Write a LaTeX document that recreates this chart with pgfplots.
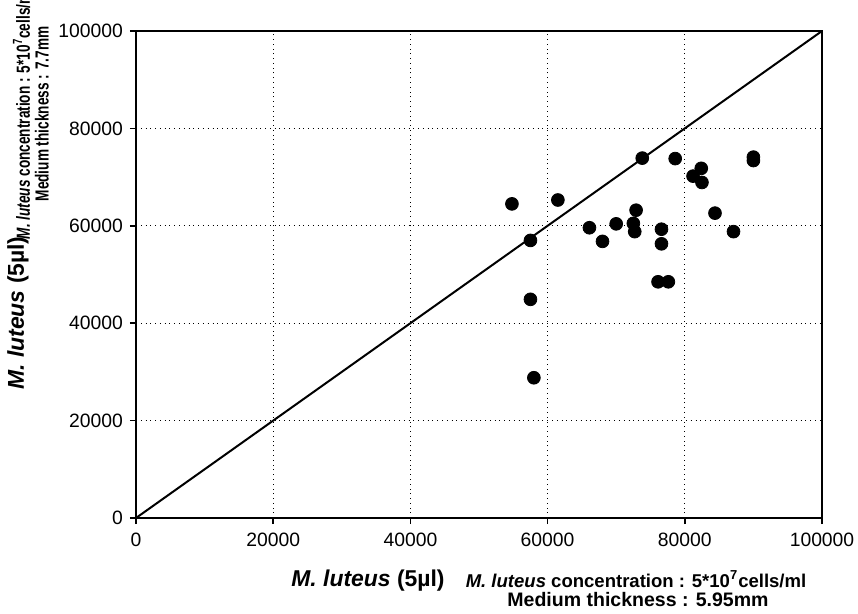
\documentclass[border=0pt]{standalone}
\usepackage{pgfplots}
\pgfplotsset{compat=1.18}
\usepackage{fontspec}
\setmainfont{Liberation Sans}
\newfontfamily\narrowfont[FakeStretch=0.72]{Liberation Sans}
\begin{document}
\begin{tikzpicture}
\path[use as bounding box] (-68bp,-48bp) rectangle (361bp,259bp);
\begin{axis}[at={(0,0)}, anchor=south west, scale only axis,
  width=343bp, height=243.5bp,
  xmin=0, xmax=100000, ymin=0, ymax=100000,
  xtick={0,20000,40000,60000,80000,100000},
  ytick={0,20000,40000,60000,80000,100000},
  xticklabels={0,20000,40000,60000,80000,100000},
  yticklabels={0,20000,40000,60000,80000,100000},
  scaled ticks=false,
  tick label style={font=\fontsize{9.7}{11}\selectfont},
  xticklabel style={yshift=-1bp},
  grid=major, major grid style={black, dotted, line width=0.5pt},
  tick align=outside, tick pos=left, major tick length=3bp,
  tick style={black, line width=0.8pt},
  axis line style={line width=0.8pt},
  clip=false]
\addplot[black, line width=1bp] coordinates {(0,0) (100000,100000)};
\addplot[only marks, mark=*, mark size=3.2bp, black] coordinates {
(54800,64500) (61500,65300) (57500,57000) (57500,44900) (58000,28800)
(66100,59600) (68000,56800) (70000,60400) (72500,60500) (72700,58800)
(72900,63200) (73800,73900) (76600,59300) (76600,56300) (76100,48500)
(77600,48500) (78600,73800) (81200,70200) (82400,71800) (82500,68900)
(84400,62600) (87100,58800) (90000,74100) (90000,73400)};
\end{axis}
\node[font=\bfseries\fontsize{11.5}{13}\selectfont] at (116bp,-31.5bp) {\textit{M. luteus} (5µl)};
\node[font=\bfseries\fontsize{9.3}{10.5}\selectfont] at (250bp,-30.5bp)
  {\textit{M. luteus} concentration : 5*10\textsuperscript{7}cells/ml};
\node[font=\bfseries\fontsize{9.8}{10.5}\selectfont] at (251bp,-41bp)
  {Medium thickness : 5.95mm};
\node[rotate=90, font=\bfseries\fontsize{11.5}{13}\selectfont] at (-59bp,102.5bp) {\textit{M. luteus} (5µl)};
\node[rotate=90, font=\narrowfont\bfseries\fontsize{9.5}{9.5}\selectfont, align=center] at (-52.5bp,202bp)
  {\textit{M. luteus} concentration : 5*10\textsuperscript{7}cells/ml\\Medium thickness : 7.7mm};
\end{tikzpicture}
\end{document}
